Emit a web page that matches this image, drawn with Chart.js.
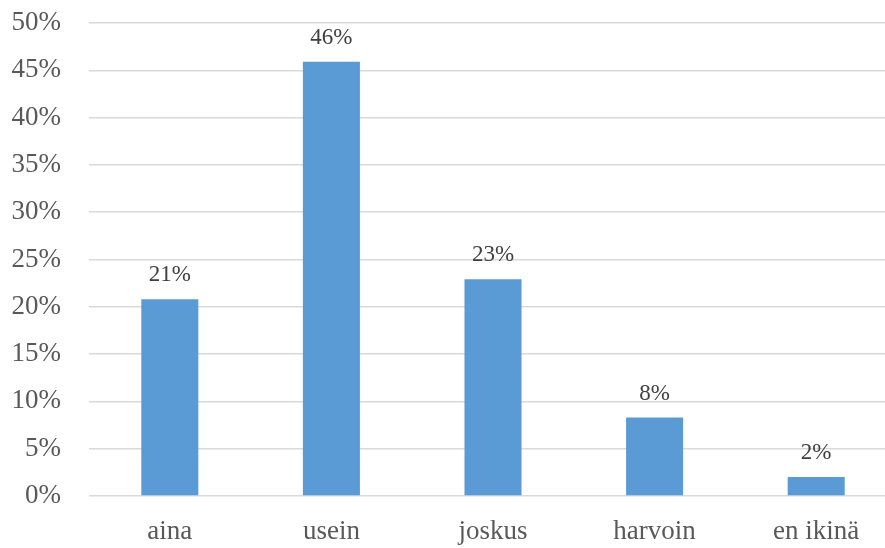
<!DOCTYPE html>
<html lang="fi">
<head>
    <meta charset="UTF-8">
    <title>Kaavio</title>
    <script src="https://cdn.jsdelivr.net/npm/chart.js"></script>
    <style>
        html, body { margin: 0; padding: 0; overflow: hidden; background: #fff; }
        #wrap { width: 897px; height: 548px; }
    </style>
</head>
<body>
<div id="wrap"><canvas id="myChart"></canvas></div>
<script>
    var categories = ['aina', 'usein', 'joskus', 'harvoin', 'en ikinä'];
    var values = [0.208, 0.459, 0.229, 0.083, 0.02];
    var valueLabels = ['21%', '46%', '23%', '8%', '2%'];

    // labels above bars
    const barLabels = {
        id: 'barLabels',
        afterDatasetsDraw(chart) {
            const ctx = chart.ctx;
            const meta = chart.getDatasetMeta(0);
            ctx.save();
            ctx.font = '23px "Liberation Serif", "Times New Roman", serif';
            ctx.fillStyle = '#404040';
            ctx.textAlign = 'center';
            ctx.textBaseline = 'middle';
            meta.data.forEach(function(bar, i) {
                ctx.fillText(valueLabels[i], bar.x, bar.y - 24);
            });
            ctx.restore();
        }
    };

    const config = {
        type: 'bar',
        data: {
            labels: categories,
            datasets: [{
                data: values,
                backgroundColor: '#5B9BD5',
                borderWidth: 0,
                categoryPercentage: 1,
                barPercentage: 0.353
            }]
        },
        options: {
            responsive: true,
            maintainAspectRatio: false,
            animation: false,
            layout: { padding: { top: 23, right: 0, bottom: 0, left: 0 } },
            plugins: { legend: { display: false }, tooltip: { enabled: false } },
            scales: {
                x: {
                    grid: { display: false },
                    border: { display: false },
                    ticks: {
                        color: '#595959',
                        font: { family: '"Liberation Serif", "Times New Roman", serif', size: 27 },
                        padding: 12
                    },
                    afterFit: function(scale) { scale.height = 52; }
                },
                y: {
                    min: 0,
                    max: 0.5,
                    grid: { color: '#D9D9D9', lineWidth: 1.5, drawTicks: false },
                    border: { display: false },
                    ticks: {
                        stepSize: 0.05,
                        color: '#595959',
                        padding: 28,
                        font: { family: '"Liberation Serif", "Times New Roman", serif', size: 27 },
                        callback: function(v) { return Math.round(v * 100) + '%'; }
                    },
                    afterFit: function(scale) {
                        scale.width = 89;
                        scale.paddingTop = 0;
                        scale.paddingBottom = 0;
                    }
                }
            }
        },
        plugins: [barLabels]
    };

    var myChart = new Chart(document.getElementById('myChart'), config);
</script>
</body>
</html>
